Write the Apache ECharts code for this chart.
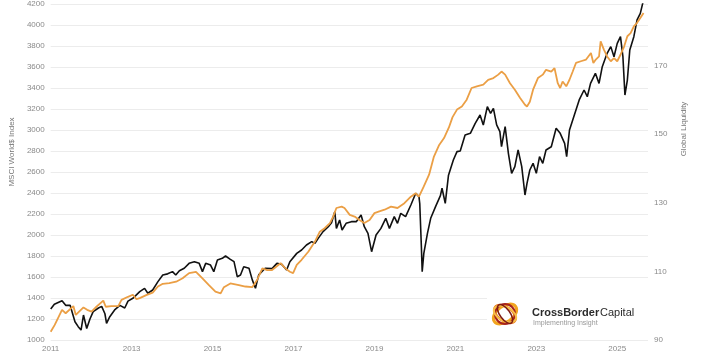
<!DOCTYPE html>
<html>
<head>
<meta charset="utf-8">
<script src="https://cdn.jsdelivr.net/npm/echarts@6/dist/echarts.min.js"></script>
<style>
  html, body { margin: 0; padding: 0; background: #fff; }
  #chart { width: 717px; height: 355px; }
</style>
</head>
<body>
<div id="chart"></div>
<script>
// MSCI World$ index (left axis), decimal years
var msciDates = [2011.00,2011.09,2011.28,2011.37,2011.48,2011.60,2011.68,2011.75,2011.81,2011.89,2011.97,
  2012.05,2012.18,2012.26,2012.34,2012.38,2012.46,2012.58,2012.71,2012.83,2012.91,
  2013.03,2013.20,2013.32,2013.40,2013.52,2013.65,2013.77,2013.89,
  2014.01,2014.09,2014.18,2014.30,2014.42,2014.55,2014.67,2014.75,2014.83,2014.95,
  2015.03,2015.12,2015.24,2015.32,2015.44,2015.53,2015.61,2015.69,2015.77,2015.90,2015.98,
  2016.06,2016.14,2016.30,2016.47,2016.59,2016.71,2016.83,2016.91,
  2017.08,2017.20,2017.32,2017.45,2017.53,2017.61,2017.73,2017.86,2017.94,
  2018.02,2018.06,2018.14,2018.20,2018.30,2018.43,2018.55,2018.67,2018.75,2018.84,2018.93,
  2019.04,2019.16,2019.28,2019.37,2019.49,2019.57,2019.65,2019.77,2019.90,
  2020.02,2020.10,2020.12,2020.16,2020.18,2020.22,2020.31,2020.39,2020.51,2020.63,2020.67,2020.75,2020.83,2020.95,
  2021.04,2021.08,2021.12,2021.24,2021.37,2021.49,2021.61,2021.69,2021.79,2021.87,2021.94,
  2022.02,2022.10,2022.14,2022.23,2022.31,2022.39,2022.47,2022.55,2022.64,2022.72,2022.77,2022.84,2022.92,
  2023.00,2023.08,2023.16,2023.24,2023.37,2023.49,2023.59,2023.70,2023.75,2023.82,2023.94,
  2024.06,2024.18,2024.26,2024.34,2024.46,2024.55,2024.63,2024.75,2024.84,2024.92,
  2025.00,2025.08,2025.14,2025.19,2025.25,2025.31,2025.41,2025.49,2025.57,2025.65,2025.72]
var msciValues = [1295,1340,1374,1330,1330,1174,1127,1095,1238,1110,1200,
  1270,1305,1320,1250,1159,1222,1286,1330,1305,1370,
  1397,1460,1492,1445,1476,1556,1619,1630,
  1651,1619,1660,1683,1730,1746,1730,1651,1730,1714,
  1651,1762,1778,1800,1768,1746,1603,1619,1698,1683,1575,
  1492,1620,1683,1680,1730,1720,1667,1746,
  1825,1857,1905,1937,1920,1968,2032,2079,2117,
  2222,2063,2143,2048,2111,2127,2127,2190,2079,2016,1841,
  2000,2063,2159,2063,2175,2111,2206,2175,2286,
  2397,2365,2300,1889,1651,1825,2016,2159,2270,2375,2445,2302,2570,2714,
  2794,2810,2800,2952,2968,3063,3143,3048,3222,3159,3206,
  3048,2984,2841,3032,2778,2587,2651,2810,2651,2381,2492,2619,2683,
  2587,2746,2683,2810,2841,3016,2968,2873,2746,3000,3143,
  3286,3381,3317,3444,3540,3444,3603,3730,3794,3698,
  3825,3889,3698,3333,3476,3762,3889,4048,4111,4240,4300]

// Global Liquidity (right axis)
var liqDates = [2011.00,2011.10,2011.28,2011.37,2011.56,2011.62,2011.81,2011.90,
  2012.01,2012.13,2012.30,2012.36,2012.50,2012.67,2012.75,2012.91,
  2013.03,2013.12,2013.20,2013.36,2013.52,2013.65,2013.77,2013.93,
  2014.10,2014.26,2014.42,2014.59,2014.75,2014.91,
  2015.07,2015.20,2015.28,2015.44,2015.65,2015.81,2015.98,
  2016.10,2016.23,2016.35,2016.47,2016.68,2016.80,2016.91,2016.99,
  2017.08,2017.20,2017.37,2017.53,2017.65,2017.77,2017.90,2017.98,
  2018.06,2018.19,2018.26,2018.39,2018.51,2018.63,2018.75,2018.88,
  2019.00,2019.12,2019.25,2019.41,2019.57,2019.74,2019.90,
  2020.02,2020.10,2020.22,2020.35,2020.47,2020.60,2020.72,2020.84,2020.93,
  2021.04,2021.16,2021.28,2021.40,2021.53,2021.69,2021.81,2021.94,
  2022.06,2022.14,2022.23,2022.35,2022.47,2022.60,2022.72,2022.77,2022.84,2022.92,
  2023.04,2023.16,2023.24,2023.37,2023.45,2023.53,2023.59,2023.65,2023.74,2023.82,2023.90,2023.98,
  2024.10,2024.23,2024.35,2024.41,2024.47,2024.55,2024.59,2024.67,2024.75,2024.84,2024.92,
  2025.00,2025.08,2025.17,2025.25,2025.33,2025.41,2025.49,2025.57,2025.65]
var liqValues = [92.4,94.4,98.8,97.8,99.9,97.3,99.5,98.8,
  98.3,99.7,101.5,99.7,99.9,99.9,101.7,102.6,
  103.2,101.9,102.2,103.1,103.8,105.6,106.4,106.6,
  107.0,108.0,109.5,109.9,108.0,106.0,
  104.1,103.6,105.4,106.5,106.0,105.6,105.4,
  107.5,110.9,110.4,110.4,112.4,110.9,109.9,109.5,
  111.9,113.4,115.8,118.7,121.6,122.6,124.1,126.0,
  128.5,128.9,128.5,126.5,126.0,125.0,124.1,125.0,
  127.0,127.5,128.0,128.9,128.5,129.9,131.8,
  132.8,131.8,134.8,138.2,143.5,146.9,148.9,152.0,155.0,
  157.2,158.1,160.1,163.5,164.0,164.5,165.9,166.4,
  167.4,168.3,167.4,164.9,163.0,160.6,158.6,158.1,159.5,163.0,
  166.4,167.4,168.8,168.3,169.3,164.9,163.5,165.4,164.0,165.9,168.3,170.8,
  171.3,171.8,173.7,170.8,171.8,172.7,177.1,174.7,172.7,171.3,172.2,
  171.3,173.2,175.6,178.6,179.5,181.5,182.5,183.9,185.4]

var yearTicks = [2011, 2013, 2015, 2017, 2019, 2021, 2023, 2025]
var leftTicks = [1000, 4200, 200]     // min, max, step
var rightTicks = [90, 188, 20]

function pairs(xs, ys){
  var out = []
  for(var i = 0; i < xs.length; i++){
    out.push([xs[i], ys[i]])
  }
  return out
}

// logo rings (swirl), drawn as rotated ellipses
function ring(rx, ry, rot, color, w){
  return {
    type: 'ellipse', z: 20, x: 505, y: 314, rotation: rot,
    shape: { cx: 0, cy: 0, rx: rx, ry: ry },
    style: { fill: null, stroke: color, lineWidth: w }
  }
}

var labelColor = '#8a8a8a'
var chart = echarts.init(document.getElementById('chart'), null, {renderer: 'canvas'})

chart.setOption({
  animation: false,
  backgroundColor: '#fff',
  grid: { left: 47, right: 69, top: 4, bottom: 15 },
  xAxis: {
    type: 'value',
    min: 2011, max: 2025.76, interval: 2,
    axisLine: { show: false },
    axisTick: { show: false },
    splitLine: { show: false },
    axisLabel: {
      color: labelColor, fontSize: 8, fontFamily: 'Liberation Sans', margin: 5,
      formatter: function(v){ return yearTicks.indexOf(v) >= 0 ? String(v) : '' }
    }
  },
  yAxis: [{
    type: 'value',
    min: leftTicks[0], max: leftTicks[1], interval: leftTicks[2],
    name: 'MSCI World$ Index',
    nameLocation: 'middle', nameGap: 24,
    nameTextStyle: { color: '#777', fontSize: 8, fontFamily: 'Liberation Sans', padding: [0, 0, 0, 40] },
    axisLine: { show: false },
    axisTick: { show: false },
    splitLine: { lineStyle: { color: '#ececec', width: 1.2 } },
    axisLabel: { color: labelColor, fontSize: 8, fontFamily: 'Liberation Sans', margin: 6,
      formatter: function(v){ return String(v) } }
  }, {
    type: 'value',
    min: rightTicks[0], max: rightTicks[1], interval: rightTicks[2],
    name: 'Global Liquidity',
    nameLocation: 'middle', nameGap: 32, nameRotate: 90,
    nameTextStyle: { color: '#777', fontSize: 8, fontFamily: 'Liberation Sans', padding: [0, 0, 0, 86] },
    axisLine: { show: false },
    axisTick: { show: false },
    splitLine: { show: false },
    axisLabel: { color: labelColor, fontSize: 8, fontFamily: 'Liberation Sans', margin: 6,
      formatter: function(v){ return (v - 90) % 20 === 0 && v <= 170 ? String(v) : '' } }
  }],
  graphic: [
    { type: 'rect', z: 1, shape: { x: 487, y: 289, width: 161, height: 44 }, style: { fill: '#fff' } },
    ring(13, 8, 0.6, '#f2a51f', 3),
    ring(12, 7, -0.6, '#e8731c', 2.5),
    ring(10, 10, 0, '#a8231c', 2),
    ring(7, 12, 1.1, '#f7c04a', 2),
    ring(11, 5, 2.2, '#7d1a14', 1.5),
    { type: 'text', z: 20, x: 532, y: 313, style: {
      text: 'CrossBorder', fontSize: 11, fontWeight: 'bold', fill: '#2b2b2b',
      fontFamily: 'Liberation Sans', verticalAlign: 'middle' } },
    { type: 'text', z: 20, x: 600, y: 313, style: {
      text: 'Capital', fontSize: 11, fill: '#2b2b2b',
      fontFamily: 'Liberation Sans', verticalAlign: 'middle' } },
    { type: 'text', z: 20, x: 533, y: 323, style: {
      text: 'Implementing Insight', fontSize: 7, fill: '#999',
      fontFamily: 'Liberation Sans', verticalAlign: 'middle' } }
  ],
  series: [{
    name: 'MSCI World$ Index',
    type: 'line',
    yAxisIndex: 0,
    data: pairs(msciDates, msciValues),
    showSymbol: false,
    z: 3,
    lineStyle: { color: '#111', width: 1.6 }
  }, {
    name: 'Global Liquidity',
    type: 'line',
    yAxisIndex: 1,
    data: pairs(liqDates, liqValues),
    showSymbol: false,
    z: 4,
    lineStyle: { color: '#eb9f45', width: 1.8 }
  }]
})
</script>
</body>
</html>
